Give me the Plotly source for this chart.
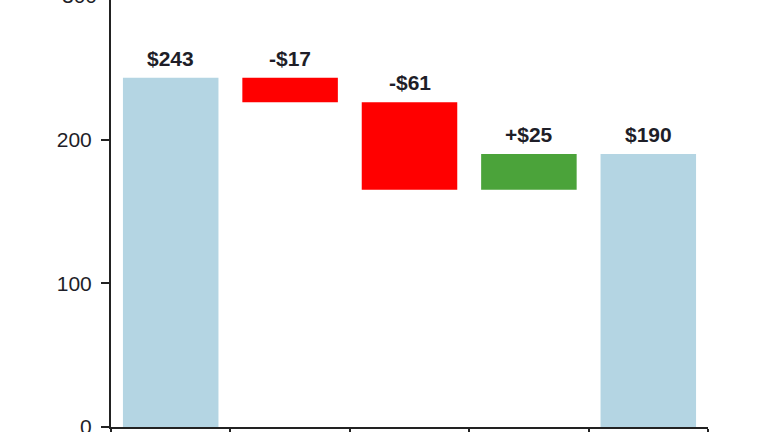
import plotly.graph_objects as go

categories = ["Start", "Change A", "Change B", "Change C", "End"]
values = [243, -17, -61, 25, 190]
measures = ["absolute", "relative", "relative", "relative", "total"]
labels = ["$243", "-$17", "-$61", "+$25", "$190"]
y_ticks = [0, 100, 200]
y_top_tick = 300
y_max = 297.1

# compute bar tops for label placement from the data
tops = []
running = 0
for v, m in zip(values, measures):
    if m == "absolute":
        running = v
        tops.append(v)
    elif m == "relative":
        start = running
        running += v
        tops.append(max(start, running))
    else:
        tops.append(running)

FONT = "Liberation Sans, Arial, sans-serif"
TXT = "#1e1e28"

fig = go.Figure()
fig.add_trace(go.Waterfall(
    x=categories, y=values, measure=measures,
    increasing=dict(marker=dict(color="#4ba33a")),
    decreasing=dict(marker=dict(color="#ff0000")),
    totals=dict(marker=dict(color="#b4d5e3")),
    connector=dict(visible=False),
    hoverinfo="skip",
))

for c, t, lab in zip(categories, tops, labels):
    fig.add_annotation(
        x=c, y=t, xref="x", yref="y", text=lab, showarrow=False,
        xanchor="center", yanchor="bottom", yshift=6,
        font=dict(family=FONT, size=21, color=TXT, weight="bold"),
    )

# top tick label (just above the visible axis range)
fig.add_annotation(
    x=0, xref="paper", y=y_top_tick / y_max, yref="paper",
    text=str(y_top_tick), showarrow=False,
    xanchor="right", yanchor="middle", xshift=-12,
    font=dict(family=FONT, size=21, color=TXT),
)

fig.update_layout(
    width=764, height=432,
    margin=dict(l=111, r=56, t=0, b=5),
    paper_bgcolor="white", plot_bgcolor="white",
    showlegend=False, bargap=0.2,
    xaxis=dict(
        type="category", range=[-0.5, 4.5], automargin=False,
        showline=True, linecolor="#222", linewidth=1.5,
        ticks="outside", tickson="boundaries", ticklen=6,
        tickcolor="#222", tickwidth=1.5,
        showticklabels=False, showgrid=False, zeroline=False,
    ),
    yaxis=dict(
        range=[0, y_max], automargin=False,
        tickvals=y_ticks,
        showline=True, linecolor="#222", linewidth=2,
        ticks="outside", ticklen=8, tickcolor="#222", tickwidth=1.5,
        ticklabelstandoff=5, ticklabeloverflow="allow",
        tickfont=dict(family=FONT, size=21, color=TXT),
        showgrid=False, zeroline=False,
    ),
)

fig.write_html(
    "out.html",
    config={"displayModeBar": False},
    post_script="document.body.style.margin='0';document.body.style.overflow='hidden';",
)
